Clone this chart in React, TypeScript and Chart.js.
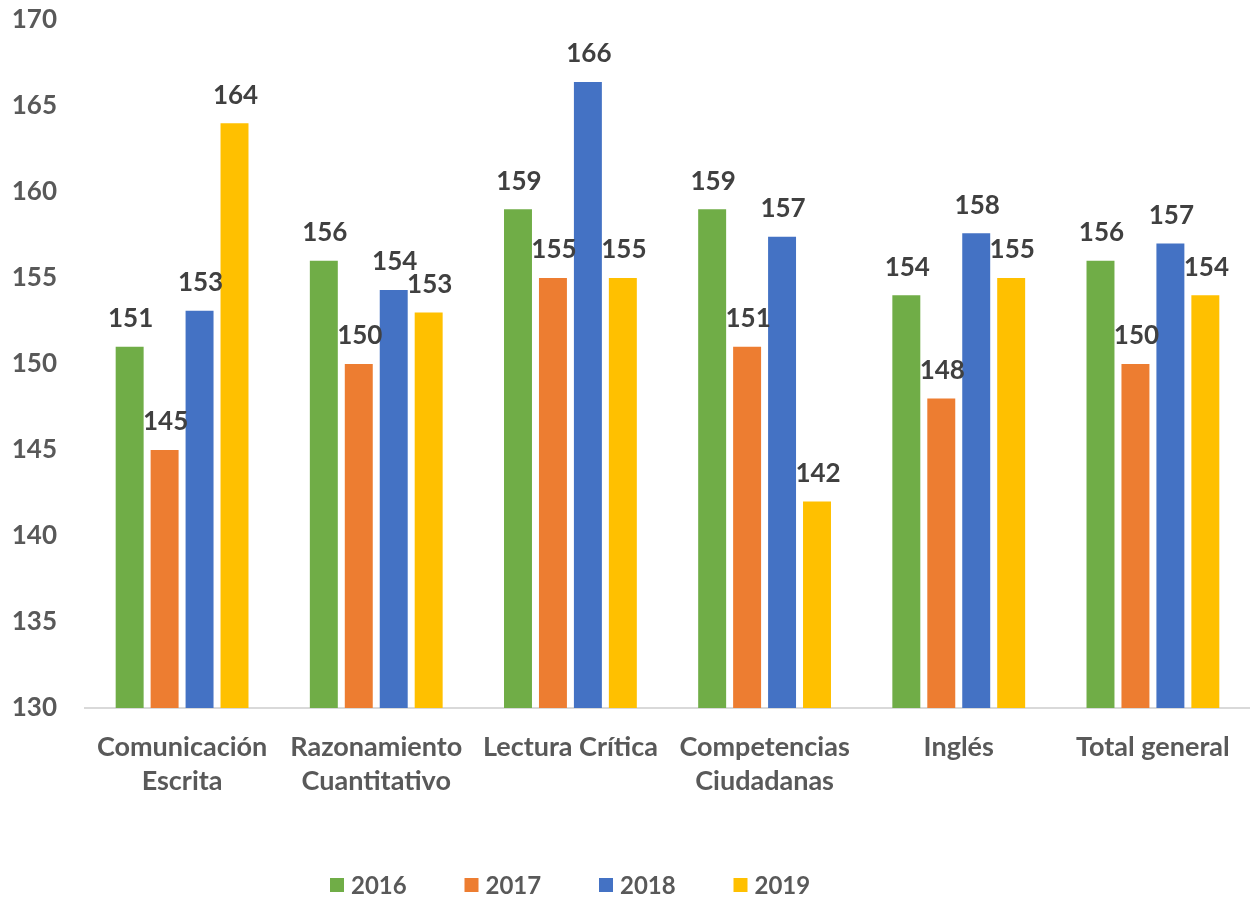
import React, { useEffect, useRef } from "react";
import { Chart, registerables } from "chart.js";

Chart.register(...registerables);

const categories: string[][] = [
  ["Comunicación", "Escrita"],
  ["Razonamiento", "Cuantitativo"],
  ["Lectura Crítica"],
  ["Competencias", "Ciudadanas"],
  ["Inglés"],
  ["Total general"],
];
const seriesLabels = ["2016", "2017", "2018", "2019"];
const values2016 = [151, 156, 159, 159, 154, 156];
const values2017 = [145, 150, 155, 151, 148, 150];
const values2018 = [153.1, 154.3, 166.4, 157.4, 157.6, 157.0];
const values2019 = [164, 153, 155, 142, 155, 154];
const seriesColors = ["#70AD47", "#ED7D31", "#4472C4", "#FFC000"];
const yMin = 130;
const yMax = 170;
const yStep = 5;

const FONT = "Lato, 'Noto Sans', sans-serif";

const dataLabelPlugin = {
  id: "dataLabels",
  afterDatasetsDraw(chart: any) {
    const ctx = chart.ctx;
    ctx.save();
    ctx.font = `bold 26px ${FONT}`;
    ctx.fillStyle = "#404040";
    ctx.textAlign = "center";
    ctx.textBaseline = "bottom";
    chart.data.datasets.forEach((ds: any, i: number) => {
      const meta = chart.getDatasetMeta(i);
      meta.data.forEach((el: any, j: number) => {
        const v = ds.data[j];
        ctx.fillText(String(Math.round(v)), el.x + 1, el.y - 15);
      });
    });
    ctx.restore();
  },
};

const legendPlugin = {
  id: "customLegend",
  afterDraw(chart: any) {
    const ctx = chart.ctx;
    ctx.save();
    ctx.font = `bold 24px ${FONT}`;
    ctx.textBaseline = "middle";
    ctx.textAlign = "left";
    const step = 134.5;
    const box = 14;
    const gap = 7;
    let x = 330;
    const y = 885;
    chart.data.datasets.forEach((ds: any) => {
      ctx.fillStyle = ds.backgroundColor;
      ctx.fillRect(x, y - box / 2, box, box);
      ctx.fillStyle = "#595959";
      ctx.fillText(ds.label, x + box + gap, y + 1);
      x += step;
    });
    ctx.restore();
  },
};

export default function App() {
  const canvasRef = useRef<HTMLCanvasElement | null>(null);

  useEffect(() => {
    if (!canvasRef.current) return;
    const allValues = [values2016, values2017, values2018, values2019];
    const chart = new Chart(canvasRef.current, {
      type: "bar",
      data: {
        labels: categories,
        datasets: allValues.map((vals, i) => ({
          label: seriesLabels[i],
          data: vals,
          backgroundColor: seriesColors[i],
          borderWidth: 0,
          barPercentage: 0.8,
          categoryPercentage: 0.72,
        })),
      },
      options: {
        animation: false,
        responsive: false,
        maintainAspectRatio: false,
        layout: { padding: { top: 20, left: 0, right: 0, bottom: 78 } },
        plugins: {
          legend: { display: false },
          tooltip: { enabled: false },
        },
        scales: {
          x: {
            grid: { display: false, drawTicks: false },
            border: { display: true, color: "#D9D9D9", width: 2 },
            ticks: {
              color: "#595959",
              font: { family: FONT, size: 27, weight: "bold", lineHeight: 1.26 },
              padding: 22,
              maxRotation: 0,
              autoSkip: false,
            },
            afterFit(scale: any) {
              scale.paddingLeft = 0;
              scale.paddingRight = 0;
            },
          },
          y: {
            min: yMin,
            max: yMax,
            grid: { display: false, drawTicks: false },
            border: { display: false },
            ticks: {
              stepSize: yStep,
              color: "#595959",
              font: { family: FONT, size: 26, weight: "bold", lineHeight: 1.2 },
              padding: 28,
            },
            afterFit(scale: any) {
              scale.width = 85;
              scale.paddingTop = 0;
              scale.paddingBottom = 0;
            },
          },
        },
      },
      plugins: [dataLabelPlugin, legendPlugin],
    });
    return () => chart.destroy();
  }, []);

  return (
    <div style={{ position: "fixed", left: 0, top: 0, width: 1250, height: 898, background: "#fff" }}>
      <canvas ref={canvasRef} width={1250} height={898} style={{ width: 1250, height: 898 }} />
    </div>
  );
}
